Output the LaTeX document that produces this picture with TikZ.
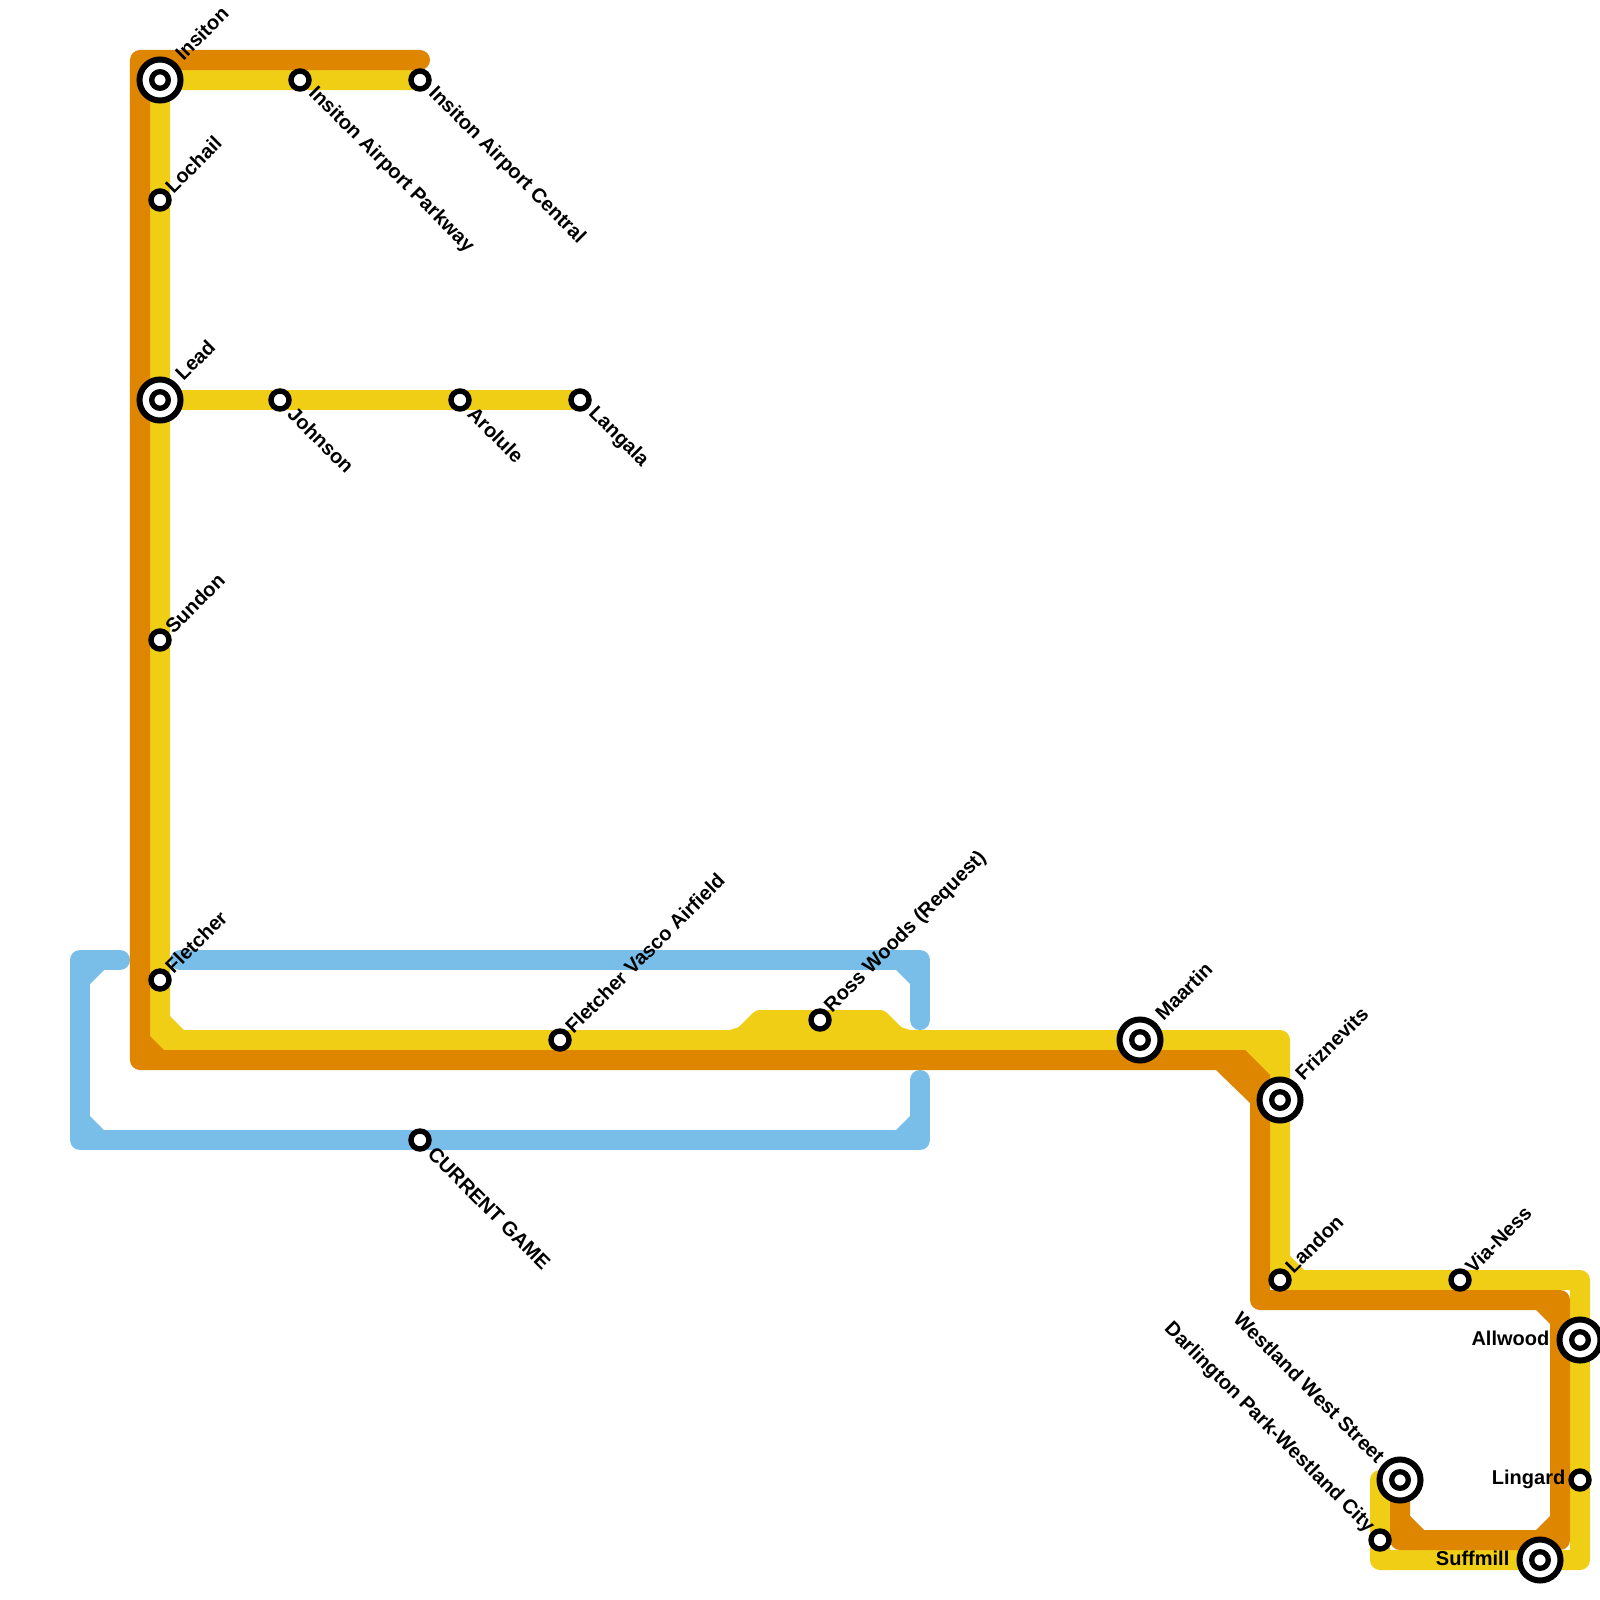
\documentclass[tikz,border=0pt]{standalone}
\usepackage{fontspec}
\setmainfont{Liberation Sans}
\usetikzlibrary{
    backgrounds,
    calc
}
\definecolor{lineyellow}{HTML}{F0CE15}
\definecolor{lineorange}{HTML}{DF8600}
\definecolor{lineblue}{HTML}{79BDE9}
\tikzset{
    track/.style={
        line width=0.2cm,
        line cap=round,
        line join=round
    },
    stop/.style={
        circle,
        draw=black,
        fill=white,
        line width=0.054cm,
        minimum size=0.18cm,
        inner sep=0pt
    },
    hub/.style={
        circle,
        draw=black,
        fill=white,
        line width=0.06cm,
        minimum size=0.41cm,
        inner sep=0pt,
        path picture={
            \draw[black, line width=0.053cm]
                (path picture bounding box.center) circle (0.083cm);
        }
    },
    tag/.style={
        font=\bfseries\fontsize{5.69pt}{6.5pt}\selectfont,
        inner sep=0pt,
        text=black
    },
    tagne/.style={tag, rotate=45, anchor=west},
    tagse/.style={tag, rotate=-45, anchor=west},
    tagnw/.style={tag, rotate=-45, anchor=east},
    tagw/.style={tag, anchor=east}
}

\begin{document}
\begin{tikzpicture}[
    x=0.01cm,
    y=-0.01cm
]

    \useasboundingbox (0,0) rectangle (1600,1600);

    % Stations, top branch
    \node[hub]  (insiton)  at (160,80)   {};
    \node[stop] (parkway)  at (300,80)   {};
    \node[stop] (central)  at (420,80)   {};
    \node[stop] (lochail)  at (160,200)  {};

    % Middle branch
    \node[hub]  (lead)     at (160,400)  {};
    \node[stop] (johnson)  at (280,400)  {};
    \node[stop] (arolule)  at (460,400)  {};
    \node[stop] (langala)  at (580,400)  {};

    % Main line
    \node[stop] (sundon)   at (160,640)  {};
    \node[stop] (fletcher) at (160,980)  {};
    \node[stop] (airfield) at (560,1040) {};
    \node[stop] (ross)     at (820,1020) {};
    \node[stop] (game)     at (420,1140) {};
    \node[hub]  (maartin)  at (1140,1040) {};
    \node[hub]  (friz)     at (1280,1100) {};
    \node[stop] (landon)   at (1280,1280) {};

    % Loop
    \node[stop] (via)      at (1460,1280) {};
    \node[hub]  (allwood)  at (1580,1340) {};
    \node[stop] (lingard)  at (1580,1480) {};
    \node[hub]  (suffmill) at (1540,1560) {};
    \node[hub]  (westland) at (1400,1480) {};
    \node[stop] (darl)     at (1380,1540) {};

    % Labels
    \node[tagne] (tinsiton)  at ($(insiton)+(18,-23)$)  {Insiton};
    \node[tagse] (tparkway)  at ($(parkway)+(11,10)$)   {Insiton Airport Parkway};
    \node[tagse] (tcentral)  at ($(central)+(11,10)$)   {Insiton Airport Central};
    \node[tagne] (tlochail)  at ($(lochail)+(8,-10)$)   {Lochail};
    \node[tagne] (tlead)     at ($(lead)+(18,-23)$)     {Lead};
    \node[tagse] (tjohnson)  at ($(johnson)+(11,10)$)   {Johnson};
    \node[tagse] (tarolule)  at ($(arolule)+(11,10)$)   {Arolule};
    \node[tagse] (tlangala)  at ($(langala)+(11,10)$)   {Langala};
    \node[tagne] (tsundon)   at ($(sundon)+(8,-10)$)    {Sundon};
    \node[tagne] (tfletcher) at ($(fletcher)+(8,-10)$)  {Fletcher};
    \node[tagne] (tairfield) at ($(airfield)+(8,-10)$)  {Fletcher Vasco Airfield};
    \node[tagne] (tross)     at ($(ross)+(8,-10)$)      {Ross Woods (Request)};
    \node[tagse] (tgame)     at ($(game)+(11,10)$)      {CURRENT GAME};
    \node[tagne] (tmaartin)  at ($(maartin)+(18,-23)$)  {Maartin};
    \node[tagne] (tfriz)     at ($(friz)+(18,-23)$)     {Friznevits};
    \node[tagne] (tlandon)   at ($(landon)+(8,-10)$)    {Landon};
    \node[tagne] (tvia)      at ($(via)+(8,-10)$)       {Via-Ness};
    \node[tagw]  (tallwood)  at ($(allwood)+(-30,-2)$)  {Allwood};
    \node[tagw]  (tlingard)  at ($(lingard)+(-14,-1)$)  {Lingard};
    \node[tagw]  (tsuffmill) at ($(suffmill)+(-30,-2)$) {Suffmill};
    \node[tagnw] (twestland) at ($(westland)+(-18,-20)$) {Westland West Street};
    \node[tagnw] (tdarl)     at ($(darl)+(-9,-10)$)     {Darlington Park-Westland City};

    % Bends
    \coordinate (bendnw) at (140,60);
    \coordinate (bendsw) at (140,1060);
    \coordinate (bendsp) at (1230,1060);
    \coordinate (bendfz) at (1260,1090);
    \coordinate (bendln) at (1260,1300);
    \coordinate (bendne) at (1560,1300);
    \coordinate (bendse) at (1560,1540);
    \coordinate (bendbt) at (1400,1540);
    \coordinate (endtop) at (420,60);
    \coordinate (yellsw) at (160,1040);
    \coordinate (bumpa)  at (740,1040);
    \coordinate (bumpb)  at (760,1020);
    \coordinate (bumpc)  at (880,1020);
    \coordinate (bumpd)  at (900,1040);
    \coordinate (yellfz) at (1280,1040);
    \coordinate (yellne) at (1580,1280);
    \coordinate (yellse) at (1580,1560);
    \coordinate (yellsw2) at (1380,1560);
    \coordinate (yellend) at (1380,1480);
    \coordinate (bluestub) at (120,960);
    \coordinate (bluenw) at (80,960);
    \coordinate (bluesw) at (80,1140);
    \coordinate (bluese) at (920,1140);
    \coordinate (blueup) at (920,1080);
    \coordinate (bluetop) at (180,960);
    \coordinate (bluene) at (920,960);
    \coordinate (bluedn) at (920,1020);

    \begin{scope}[on background layer]

        % Blue line
        \draw[track, lineblue] (bluestub) -- (bluenw) -- (bluesw)
            -- (game.center) -- (bluese) -- (blueup);
        \draw[track, lineblue] (bluetop) -- (bluene) -- (bluedn);
        \fill[lineblue] (90,970) -- ++(14,0) -- ++(-14,14) -- cycle;
        \fill[lineblue] (90,1130) -- ++(14,0) -- ++(-14,-14) -- cycle;
        \fill[lineblue] (910,970) -- ++(-14,0) -- ++(14,14) -- cycle;
        \fill[lineblue] (910,1130) -- ++(-14,0) -- ++(14,-14) -- cycle;

        % Yellow line
        \draw[track, lineyellow] (central.center) -- (parkway.center)
            -- (insiton.center) -- (lochail.center) -- (lead.center)
            -- (sundon.center) -- (fletcher.center) -- (yellsw)
            -- (airfield.center) -- (bumpa) -- (bumpb) -- (ross.center)
            -- (bumpc) -- (bumpd) -- (maartin.center) -- (yellfz)
            -- (friz.center) -- (landon.center) -- (via.center)
            -- (yellne) -- (allwood.center) -- (lingard.center)
            -- (yellse) -- (suffmill.center) -- (yellsw2)
            -- (darl.center) -- (yellend);
        \draw[track, lineyellow] (lead.center) -- (johnson.center)
            -- (arolule.center) -- (langala.center);
        \fill[lineyellow] (730,1050) -- (730,1030) -- (bumpb) -- (bumpc)
            -- (910,1030) -- (910,1050) -- cycle;
        \fill[lineyellow] (1240,1040) rectangle (1280,1090);
        \fill[lineyellow] (170,1030) -- ++(14,0) -- ++(-14,-14) -- cycle;
        \fill[lineyellow] (1290,1270) -- ++(14,0) -- ++(-14,-14) -- cycle;

        % Orange line
        \draw[track, lineorange] (endtop) -- (bendnw) -- (bendsw)
            -- (bendsp) -- (bendfz) -- (bendln) -- (bendne) -- (bendse)
            -- (bendbt) -- (westland.center);
        \fill[lineorange] (1216,1050) -- (1245,1050) -- (1270,1075)
            -- (1270,1110) -- (1250,1110) -- (1250,1103) -- (1216,1070) -- cycle;
        \fill[lineorange] (150,1050) -- ++(14,0) -- ++(-14,-14) -- cycle;
        \fill[lineorange] (1550,1310) -- ++(-14,0) -- ++(14,14) -- cycle;
        \fill[lineorange] (1550,1530) -- ++(-14,0) -- ++(14,-14) -- cycle;
        \fill[lineorange] (1410,1530) -- ++(14,0) -- ++(-14,-14) -- cycle;

    \end{scope}

\end{tikzpicture}
\end{document}
